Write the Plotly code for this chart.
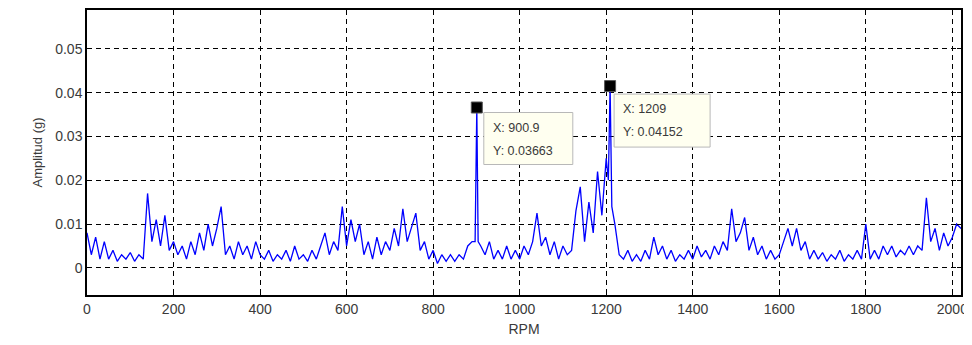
import plotly.graph_objects as go

# Amplitude spectrum, values in milli-g at ~10 RPM steps
amp_mg = [
    8, 3, 7, 2, 6, 2, 4, 1.5, 3, 2,            # 0-90
    3.5, 1.5, 3, 2, 17, 6, 11, 5, 12, 4,       # 100-190
    6, 3, 5, 2, 6, 3, 8, 4, 10, 5,             # 200-290
    9, 14, 3, 5, 2, 6, 3, 5, 2, 6,             # 300-390
    3, 2, 4, 1.5, 3, 2, 4, 1.5, 5, 2,          # 400-490
    3, 1.5, 4, 2, 5, 8, 3, 6, 4, 14,           # 500-590
    5, 11, 6, 10, 3, 6, 2, 7, 3, 6,            # 600-690
    4, 9, 5, 13.5, 6, 9, 12.5, 4, 6, 2,        # 700-790
    4, 1, 3, 1.5, 3, 1.5, 3, 2, 5, 6,          # 800-890
    36.63, 5, 3, 6, 2, 4, 2, 5, 2, 4,          # 900.9-990
    2, 5, 3, 6, 12.5, 5, 7, 3, 6, 2,           # 1000-1090
    5, 3, 4, 13, 18.5, 6, 15, 8, 22, 12,       # 1100-1190
    25, 41.52, 10, 3, 2, 4, 1.5, 3, 1.5, 4,    # 1200-1290
    2, 7, 3, 5, 2, 4, 1.5, 3, 2, 4,            # 1300-1390
    2, 5, 2.5, 4, 2, 5, 3, 6, 4, 13.5,         # 1400-1490
    6, 8, 11.5, 4, 7, 3, 5, 2, 4, 2,           # 1500-1590
    3, 6, 9, 5, 9, 4, 6, 2, 4, 2,              # 1600-1690
    3.5, 1.5, 3, 2, 4, 1.5, 3, 2, 4, 2,        # 1700-1790
    10, 2, 4, 2, 5, 3, 5, 2.5, 4, 3,           # 1800-1890
    5, 3, 5, 4, 16, 6, 9, 4, 8, 5,             # 1900-1990
    7, 10, 9,                                  # 2000-2020
]
rpm_grid = [i * 10 for i in range(len(amp_mg))]
rpm_grid[90] = 900.9
rpm_grid[121] = 1209

# extra samples around the sharp peaks (RPM, milli-g)
extra_rpm = [897, 904, 1205, 1213]
extra_mg = [6, 6, 20, 14]

pairs = sorted(zip(rpm_grid + extra_rpm, amp_mg + extra_mg))
rpm = [p[0] for p in pairs]
amp = [p[1] / 1000 for p in pairs]

peak_rpm = [900.9, 1209]
peak_amp = [0.03663, 0.04152]
peak_x_text = ["X: 900.9", "X: 1209"]
peak_y_text = ["Y: 0.03663", "Y: 0.04152"]
# datatip box placement relative to the marker (pixels): left, right, top, bottom offsets
tip_box = [(7, 96, -5, -57), (4, 100, -8, -61)]

x_ticks = list(range(0, 2001, 200))
y_ticks = [0, 0.01, 0.02, 0.03, 0.04, 0.05]
y_tick_text = ["0", "0.01", "0.02", "0.03", "0.04", "0.05"]

FONT = "Liberation Sans, Arial"
TXT = "#3a3a3a"

fig = go.Figure()
fig.add_trace(go.Scatter(x=rpm, y=amp, mode="lines",
                         line=dict(color="#0000ff", width=1.3),
                         showlegend=False, hoverinfo="skip"))

for px, py, xt, yt, (l, r, t, b) in zip(peak_rpm, peak_amp, peak_x_text, peak_y_text, tip_box):
    fig.add_shape(type="rect", xref="x", yref="y",
                  xsizemode="pixel", ysizemode="pixel",
                  xanchor=px, yanchor=py, x0=l, x1=r, y0=t, y1=b,
                  fillcolor="#fffff0", line=dict(color="#b8b8b8", width=1))
    fig.add_annotation(x=px, y=py, text=xt, showarrow=False,
                       xanchor="left", yanchor="middle", xshift=l + 7, yshift=t - 15,
                       font=dict(family=FONT, size=12.5, color=TXT))
    fig.add_annotation(x=px, y=py, text=yt, showarrow=False,
                       xanchor="left", yanchor="middle", xshift=l + 7, yshift=t - 38,
                       font=dict(family=FONT, size=12.5, color=TXT))

fig.add_trace(go.Scatter(x=peak_rpm, y=peak_amp, mode="markers",
                         marker=dict(symbol="square", size=11, color="black",
                                     line=dict(color="#555", width=1)),
                         showlegend=False, hoverinfo="skip"))

axis_common = dict(showline=True, linecolor="black", linewidth=1.5, mirror="ticks",
                   ticks="inside", ticklen=4, tickcolor="black",
                   showgrid=True, gridcolor="black", gridwidth=1, griddash="5px,4px",
                   zeroline=False, automargin=False, ticklabeloverflow="allow",
                   tickfont=dict(family=FONT, size=14, color=TXT))

fig.update_xaxes(range=[0, 2020], tickvals=x_ticks,
                 title=dict(text="RPM", standoff=10,
                            font=dict(family=FONT, size=14, color=TXT)),
                 **axis_common)
fig.update_yaxes(range=[-0.0062, 0.0589], tickvals=y_ticks, ticktext=y_tick_text,
                 title=dict(text="Amplitud (g)", standoff=10,
                            font=dict(family=FONT, size=13, color=TXT)),
                 **axis_common)

# the page body adds an 8 px offset, so the figure is shifted by 8 px
fig.update_layout(width=972, height=329,
                  margin=dict(l=79, r=19, t=2, b=42),
                  plot_bgcolor="white", paper_bgcolor="white")

fig.write_html("out.html")
